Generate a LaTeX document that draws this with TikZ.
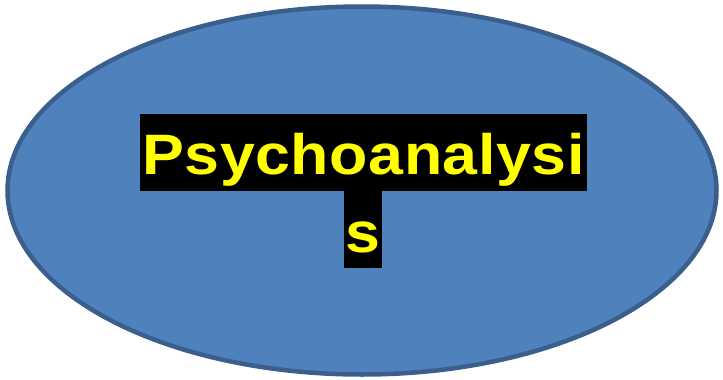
\documentclass[tikz,border=0pt]{standalone}
\usepackage{fontspec}
\setmainfont{Liberation Sans}
\definecolor{ellfill}{HTML}{4F81BD}
\definecolor{elldraw}{HTML}{3A5F8C}
\definecolor{txtyellow}{HTML}{FFFF00}
\tikzset{
  labelbox/.style={fill=black, text=txtyellow, inner xsep=2.5pt, inner ysep=0pt,
    text height=61pt, text depth=16pt,
    font=\fontsize{57pt}{60pt}\selectfont\bfseries\addfontfeature{FakeStretch=1.1,LetterSpace=1}},
}
\begin{document}
\begin{tikzpicture}[x=1pt,y=1pt]
\useasboundingbox (0,0) rectangle (723,-380);
\draw[fill=ellfill, draw=elldraw, line width=4.5pt] (362,-190.5) ellipse [x radius=354.5, y radius=184];
\node[labelbox, anchor=south] (l1) at (363.5,-191) {Psychoanalysi};
\node[labelbox, anchor=north, inner xsep=2pt] (l2) at (363,-191) {s};
\end{tikzpicture}
\end{document}
